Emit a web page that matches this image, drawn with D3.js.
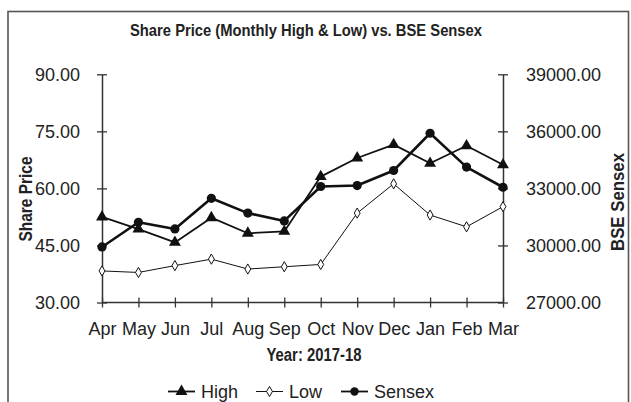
<!DOCTYPE html>
<html>
<head>
<meta charset="utf-8">
<script src="https://cdn.jsdelivr.net/npm/d3@7"></script>
<style>
    body { margin: 0; background: #fff; }
    svg { display: block; }
    .tick text { font-family: "Liberation Sans", Arial, sans-serif; font-size: 18px; fill: #222; }
    .narrow { font-family: "Liberation Sans Narrow", "Arial Narrow", "Liberation Sans", sans-serif; font-weight: bold; fill: #222; }
</style>
</head>
<body>
<div id="chart"></div>
<script>
const months = ['Apr', 'May', 'Jun', 'Jul', 'Aug', 'Sep', 'Oct', 'Nov', 'Dec', 'Jan', 'Feb', 'Mar'];
const highPrice = [52.5, 49.3, 45.8, 52.3, 48.2, 48.7, 63.1, 68.0, 71.5, 66.6, 71.2, 66.2];
const lowPrice = [38.3, 37.9, 39.7, 41.4, 38.8, 39.4, 40.0, 53.5, 61.2, 53.0, 49.9, 55.2];
const sensex = [29920, 31220, 30870, 32480, 31700, 31290, 33100, 33150, 33940, 35900, 34120, 33060];
const leftTicks = [30, 45, 60, 75, 90];
const rightTicks = [27000, 30000, 33000, 36000, 39000];

const width = 631;
const height = 402;
const plotLeft = 102, plotRight = 503, plotTop = 74.3, plotBottom = 302.5;

const svg = d3.select('#chart')
    .append('svg')
    .attr('width', width)
    .attr('height', height);

// frame round the chart
svg.append('rect')
    .attr('x', 8)
    .attr('y', 11.5)
    .attr('width', 620.5)
    .attr('height', 420)
    .attr('fill', 'none')
    .attr('stroke', '#555')
    .attr('stroke-width', 1.6);

const x = d3.scalePoint().domain(months).range([plotLeft, plotRight]);
const yLeft = d3.scaleLinear().domain([30, 90]).range([plotBottom, plotTop]);
const yRight = d3.scaleLinear().domain([27000, 39000]).range([plotBottom, plotTop]);

function crossTicks(axisG, horizontal) {
    axisG.select('.domain').attr('stroke', '#333').attr('stroke-width', 1.5);
    axisG.selectAll('.tick line')
        .attr('stroke', '#333')
        .attr('stroke-width', 1.3)
        .each(function () {
            const l = d3.select(this);
            if (horizontal) l.attr('y1', -5).attr('y2', 5);
            else l.attr('x1', -5).attr('x2', 5);
        });
}

const gLeft = svg.append('g')
    .attr('transform', `translate(${plotLeft},0)`)
    .call(d3.axisLeft(yLeft).tickValues(leftTicks).tickFormat(d3.format('.2f')).tickSizeOuter(0).tickPadding(16));
crossTicks(gLeft, false);

const gRight = svg.append('g')
    .attr('transform', `translate(${plotRight},0)`)
    .call(d3.axisRight(yRight).tickValues(rightTicks).tickFormat(d3.format('.2f')).tickSizeOuter(0).tickPadding(17));
crossTicks(gRight, false);

const gBottom = svg.append('g')
    .attr('transform', `translate(0,${plotBottom})`)
    .call(d3.axisBottom(x).tickSizeOuter(0).tickPadding(14));
crossTicks(gBottom, true);
gBottom.select('.domain').attr('d', `M${plotLeft},0H${plotRight}`);

// titles (squeezed to the narrow bold face of the original)
function narrowText(str, size, len, transform) {
    return svg.append('text')
        .attr('class', 'narrow')
        .attr('transform', transform)
        .attr('text-anchor', 'middle')
        .attr('font-size', size)
        .attr('textLength', len)
        .attr('lengthAdjust', 'spacingAndGlyphs')
        .text(str);
}

narrowText('Share Price (Monthly High & Low) vs. BSE Sensex', 17, 352, 'translate(306,36)');
narrowText('Year: 2017-18', 18, 95, 'translate(314,361)');
narrowText('Share Price', 18, 85, 'translate(32,199) rotate(-90)');
narrowText('BSE Sensex', 18, 98, 'translate(624,202) rotate(-90)');

// series
const triangle = d3.symbol().type(d3.symbolTriangle).size(62);
const diamond = d3.symbol().type(d3.symbolDiamond).size(30);

function drawLine(values, y, strokeWidth) {
    svg.append('path')
        .datum(values)
        .attr('fill', 'none')
        .attr('stroke', '#111')
        .attr('stroke-width', strokeWidth)
        .attr('stroke-linejoin', 'round')
        .attr('d', d3.line().x((d, i) => x(months[i])).y(d => y(d)));
}

drawLine(lowPrice, yLeft, 1);
drawLine(highPrice, yLeft, 1.8);
drawLine(sensex, yRight, 2.6);

svg.append('g').selectAll('path')
    .data(lowPrice)
    .join('path')
    .attr('d', diamond)
    .attr('transform', (d, i) => `translate(${x(months[i])},${yLeft(d)})`)
    .attr('fill', '#fff')
    .attr('stroke', '#111')
    .attr('stroke-width', 1);

svg.append('g').selectAll('path')
    .data(highPrice)
    .join('path')
    .attr('d', triangle)
    .attr('transform', (d, i) => `translate(${x(months[i])},${yLeft(d)})`)
    .attr('fill', '#111');

svg.append('g').selectAll('circle')
    .data(sensex)
    .join('circle')
    .attr('cx', (d, i) => x(months[i]))
    .attr('cy', d => yRight(d))
    .attr('r', 4.6)
    .attr('fill', '#111');

// legend
const legendY = 391.5;
const legendItems = [
    { label: 'High', x0: 168, marker: 'triangle' },
    { label: 'Low', x0: 256, marker: 'diamond' },
    { label: 'Sensex', x0: 341, marker: 'circle' }
];

legendItems.forEach(item => {
    const g = svg.append('g').attr('transform', `translate(${item.x0},${legendY})`);
    g.append('line')
        .attr('x1', 0).attr('x2', 27)
        .attr('stroke', '#111')
        .attr('stroke-width', item.marker === 'diamond' ? 1 : 1.8);
    if (item.marker === 'triangle') {
        g.append('path').attr('d', triangle).attr('transform', 'translate(13.5,0)').attr('fill', '#111');
    } else if (item.marker === 'diamond') {
        g.append('path').attr('d', diamond).attr('transform', 'translate(13.5,0)')
            .attr('fill', '#fff').attr('stroke', '#111').attr('stroke-width', 1);
    } else {
        g.append('circle').attr('cx', 13.5).attr('r', 4.2).attr('fill', '#111');
    }
    g.append('text')
        .attr('x', 33)
        .attr('y', 6.5)
        .attr('font-family', '"Liberation Sans", Arial, sans-serif')
        .attr('font-size', 18)
        .attr('fill', '#222')
        .text(item.label);
});
</script>
</body>
</html>
